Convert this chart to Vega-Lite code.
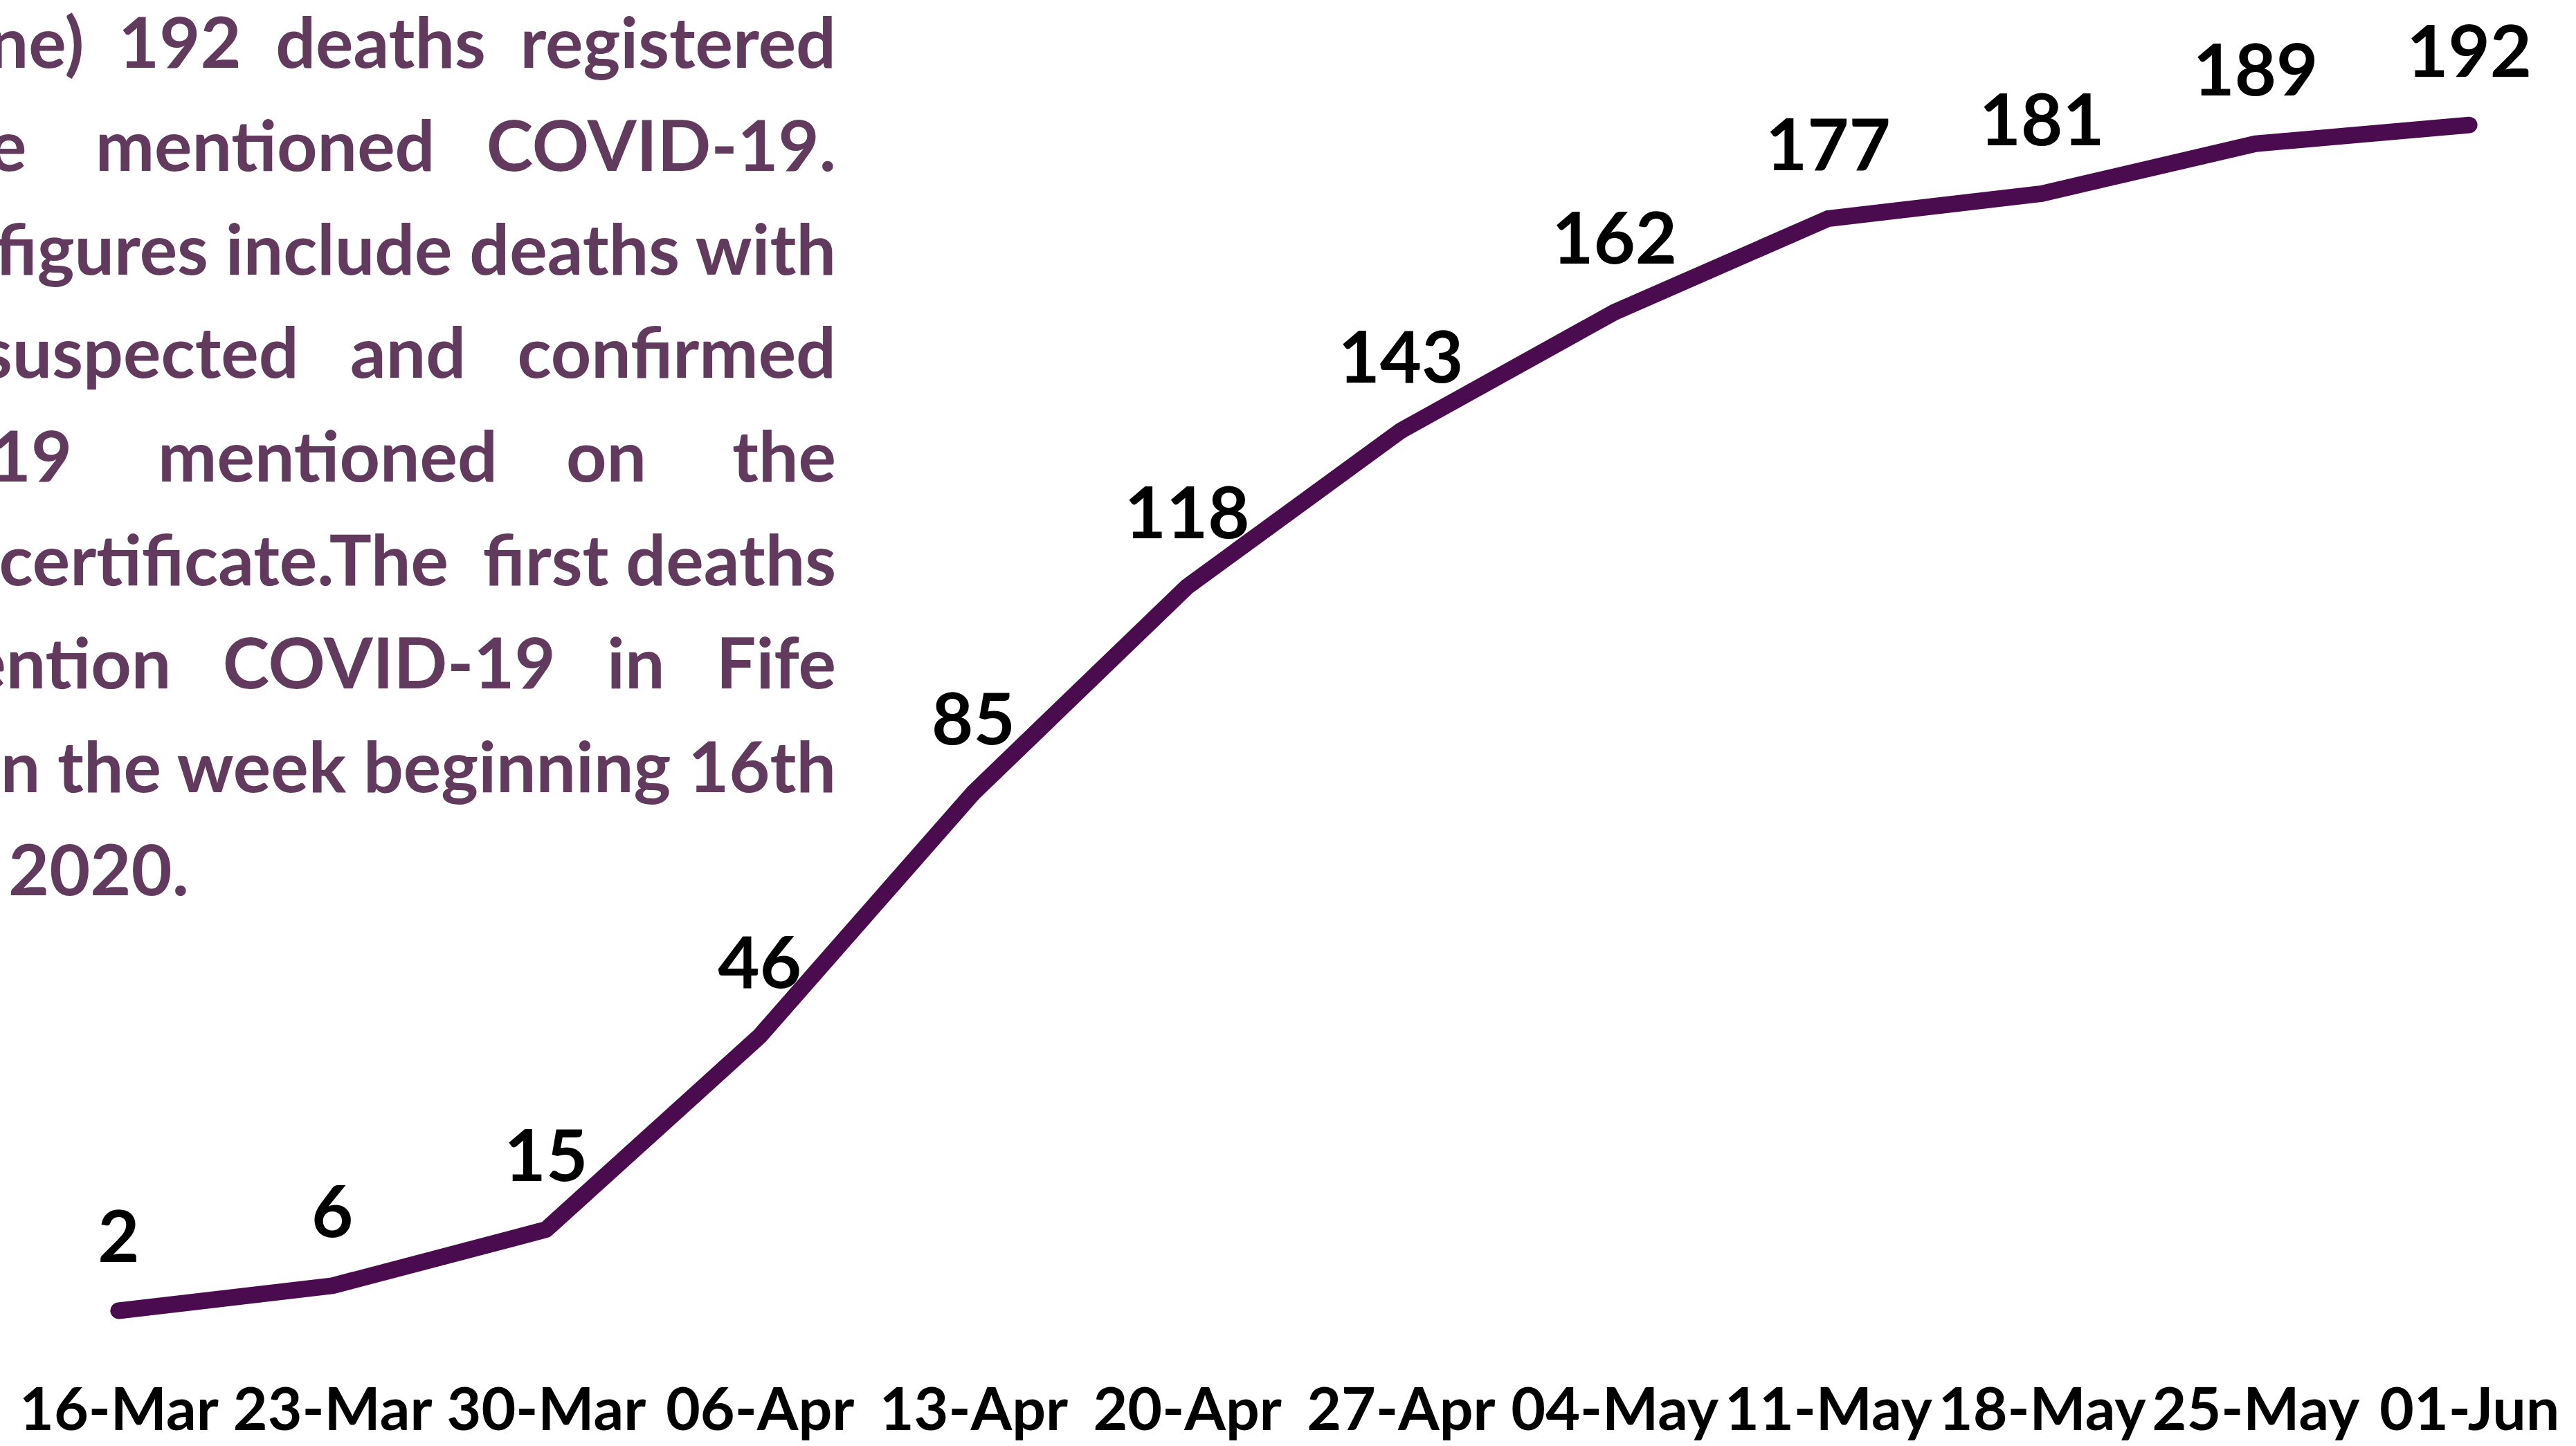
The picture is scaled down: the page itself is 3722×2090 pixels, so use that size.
{
  "$schema": "https://vega.github.io/schema/vega-lite/v6.json",
  "width": 3705,
  "height": 1804,
  "autosize": {"type": "none"},
  "padding": {"left": 17, "top": 108.5, "right": 0, "bottom": 177.5},
  "background": "white",
  "config": {"view": {"stroke": null}, "font": "Lato"},
  "datasets": {
    "deaths": [
      {"week": "16-Mar", "deaths": 2},
      {"week": "23-Mar", "deaths": 6},
      {"week": "30-Mar", "deaths": 15},
      {"week": "06-Apr", "deaths": 46},
      {"week": "13-Apr", "deaths": 85},
      {"week": "20-Apr", "deaths": 118},
      {"week": "27-Apr", "deaths": 143},
      {"week": "04-May", "deaths": 162},
      {"week": "11-May", "deaths": 177},
      {"week": "18-May", "deaths": 181},
      {"week": "25-May", "deaths": 189},
      {"week": "01-Jun", "deaths": 192}
    ],
    "para": [
      {"line": 0, "text": "ne)\u00a0\u00a0192\u00a0\u00a0deaths\u00a0\u00a0registered"},
      {"line": 1, "text": "e\u00a0\u00a0\u00a0\u00a0mentioned\u00a0\u00a0\u00a0COVID-19."},
      {"line": 2, "text": "figures include deaths with"},
      {"line": 3, "text": "suspected\u00a0\u00a0\u00a0and\u00a0\u00a0\u00a0confirmed"},
      {"line": 4, "text": "19\u00a0\u00a0\u00a0\u00a0\u00a0mentioned\u00a0\u00a0\u00a0\u00a0on\u00a0\u00a0\u00a0\u00a0\u00a0the"},
      {"line": 5, "text": "certificate.The\u00a0\u00a0first\u00a0deaths"},
      {"line": 6, "text": "ention\u00a0\u00a0\u00a0COVID-19\u00a0\u00a0\u00a0in\u00a0\u00a0\u00a0Fife"},
      {"line": 7, "text": "n the week beginning 16th"}
    ],
    "para2": [
      {"line": 8, "text": "2020."}
    ]
  },
  "layer": [
    {
      "data": {"name": "deaths"},
      "mark": {"type": "line", "color": "#4b0c4f", "strokeWidth": 24, "strokeCap": "round", "strokeJoin": "round"},
      "encoding": {
        "x": {
          "field": "week", "type": "ordinal", "sort": null,
          "scale": {"type": "point", "padding": 0.5},
          "axis": {
            "title": null, "labelAngle": 0, "labelFont": "Lato", "labelFontWeight": "bold",
            "labelFontSize": 86, "labelColor": "#000000", "labelBaseline": "alphabetic",
            "labelPadding": 154, "ticks": false, "tickSize": 0, "domain": false, "grid": false,
            "labelOverlap": false, "labelBound": false, "labelLimit": 0
          }
        },
        "y": {"field": "deaths", "type": "quantitative", "scale": {"domain": [0, 200], "nice": false}, "axis": null}
      }
    },
    {
      "data": {"name": "deaths"},
      "mark": {"type": "text", "dy": -70, "baseline": "alphabetic", "fontSize": 104, "fontWeight": "bold", "font": "Lato", "color": "#000000"},
      "encoding": {
        "x": {"field": "week", "type": "ordinal", "sort": null, "scale": {"type": "point", "padding": 0.5}},
        "y": {"field": "deaths", "type": "quantitative", "scale": {"domain": [0, 200], "nice": false}, "axis": null},
        "text": {"field": "deaths", "type": "quantitative"}
      }
    },
    {
      "data": {"name": "para"},
      "mark": {"type": "text", "align": "right", "baseline": "alphabetic", "fontSize": 102, "fontWeight": "bold", "font": "Lato", "color": "#613a5e"},
      "encoding": {
        "x": {"value": 1191},
        "y": {"field": "line", "type": "quantitative", "scale": {"domain": [0.0735, 12.132], "reverse": true, "nice": false, "zero": false}, "axis": null},
        "text": {"field": "text"}
      }
    },
    {
      "data": {"name": "para2"},
      "mark": {"type": "text", "align": "left", "baseline": "alphabetic", "fontSize": 102, "fontWeight": "bold", "font": "Lato", "color": "#613a5e"},
      "encoding": {
        "x": {"value": -5},
        "y": {"field": "line", "type": "quantitative", "scale": {"domain": [0.0735, 12.132], "reverse": true, "nice": false, "zero": false}, "axis": null},
        "text": {"field": "text"}
      }
    }
  ],
  "resolve": {"scale": {"y": "independent"}}
}
